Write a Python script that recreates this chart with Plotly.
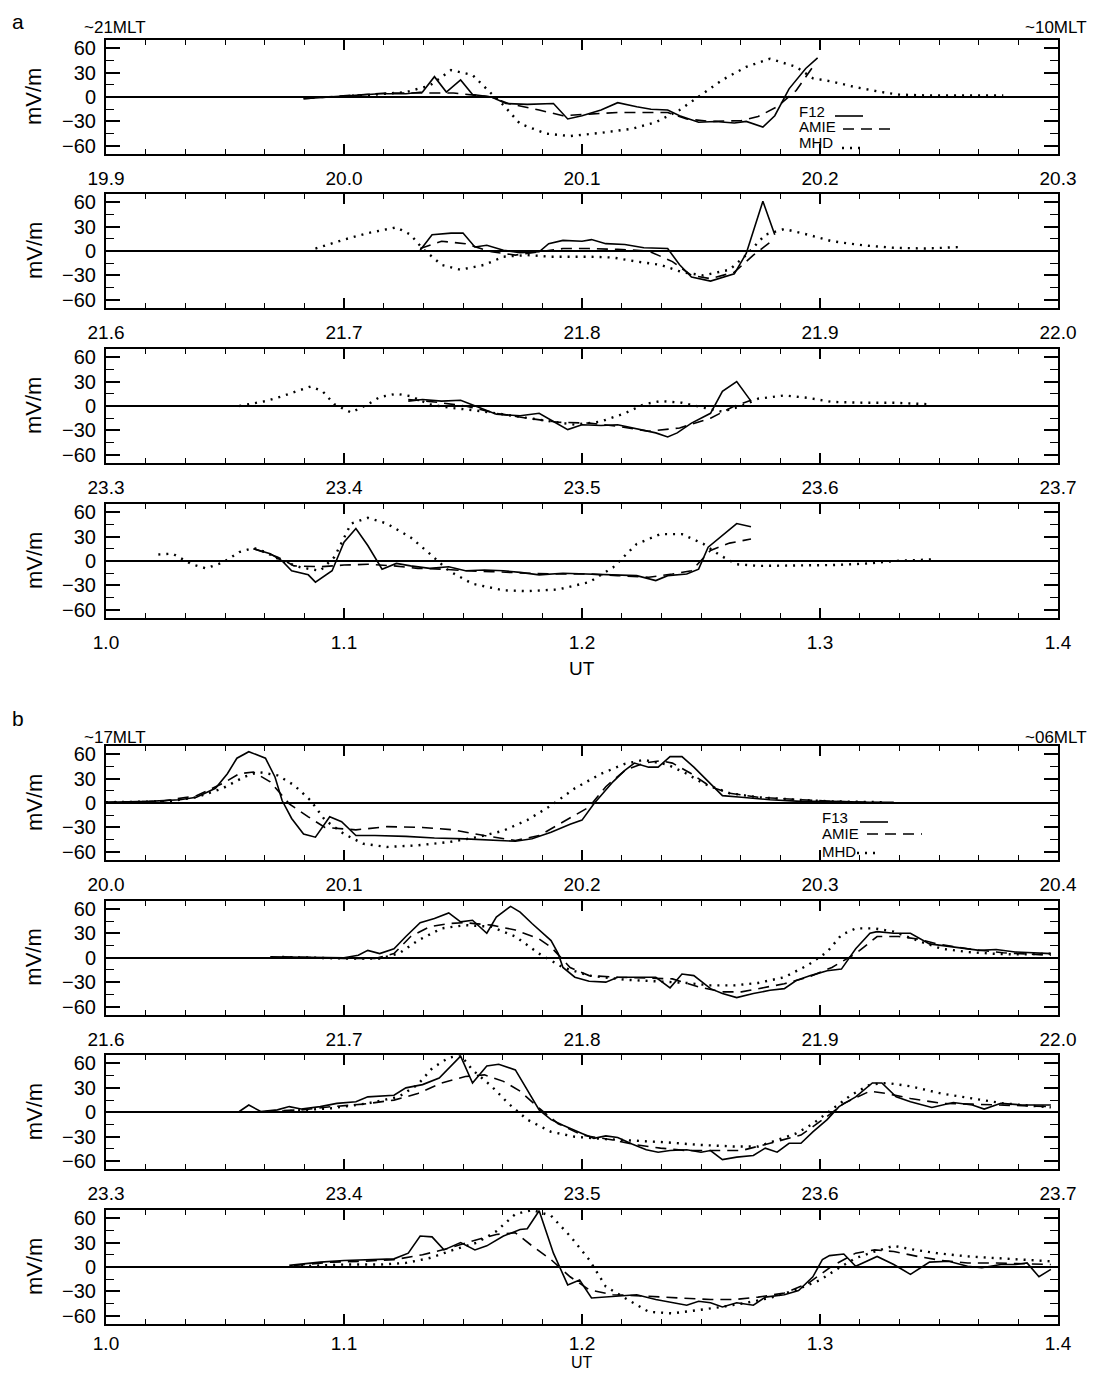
import plotly.graph_objects as go

W, H = 1099, 1380          # browser window
OFF = 8                    # default page margin of the html body
FW, FH = W - 2 * OFF, H - 2 * OFF

# ---------------- data (UT hours, mV/m) ----------------
PANEL_STARTS = [19.9, 21.6, 23.3, 1.0, 20.0, 21.6, 23.3, 1.0]
Y_TICKS = [-60, -30, 0, 30, 60]
Y_TICK_TEXT = ["\u221260", "\u221230", "0", "30", "60"]
MLT_LABELS = [("~21MLT", "~10MLT"), ("~17MLT", "~06MLT")]
SAT_NAMES = ["F12", "F13"]

# panel a1
A1_F12_T = [19.983, 20.000, 20.015, 20.026, 20.033, 20.038, 20.043, 20.049, 20.054, 20.062, 20.068, 20.077, 20.088, 20.094, 20.100, 20.108, 20.115, 20.123, 20.129, 20.136, 20.141, 20.149, 20.156, 20.164, 20.169, 20.176, 20.181, 20.187, 20.194, 20.199]
A1_F12 = [-2, 1, 4, 4, 6, 25, 6, 21, 3, 0, -8, -9, -8, -27, -23, -16, -7, -12, -15, -16, -23, -31, -30, -32, -30, -37, -23, 10, 35, 48]
A1_AMIE_T = [19.983, 20.000, 20.018, 20.031, 20.046, 20.062, 20.069, 20.082, 20.092, 20.103, 20.115, 20.128, 20.136, 20.144, 20.154, 20.167, 20.174, 20.182, 20.190, 20.197]
A1_AMIE = [-2, 1, 5, 5, 5, 0, -8, -16, -23, -21, -19, -19, -19, -27, -30, -29, -24, -12, 8, 37]
A1_MHD_T = [20.000, 20.013, 20.026, 20.036, 20.045, 20.054, 20.062, 20.067, 20.074, 20.085, 20.095, 20.108, 20.121, 20.131, 20.141, 20.151, 20.159, 20.169, 20.179, 20.190, 20.197, 20.205, 20.215, 20.226, 20.233, 20.244, 20.256, 20.277]
A1_MHD = [1, 3, 6, 14, 33, 27, 4, -10, -33, -45, -48, -44, -39, -31, -16, 4, 21, 37, 47, 37, 23, 19, 12, 6, 3, 2, 2, 2]

# panel a2
A2_F12_T = [21.732, 21.737, 21.745, 21.750, 21.755, 21.760, 21.767, 21.774, 21.782, 21.786, 21.792, 21.800, 21.804, 21.810, 21.818, 21.826, 21.836, 21.841, 21.846, 21.854, 21.864, 21.869, 21.876, 21.881]
A2_F12 = [1, 20, 22, 22, 5, 7, 1, -2, -1, 9, 13, 12, 14, 9, 8, 4, 3, -17, -32, -37, -28, -3, 61, 20]
A2_AMIE_T = [21.732, 21.741, 21.751, 21.762, 21.772, 21.782, 21.792, 21.803, 21.815, 21.828, 21.838, 21.846, 21.854, 21.864, 21.872, 21.881]
A2_AMIE = [3, 12, 9, -1, -5, -1, 3, 3, 2, 0, -13, -30, -34, -26, -5, 15]
A2_MHD_T = [21.688, 21.700, 21.710, 21.722, 21.728, 21.733, 21.741, 21.749, 21.759, 21.767, 21.777, 21.787, 21.803, 21.813, 21.823, 21.833, 21.842, 21.851, 21.862, 21.869, 21.877, 21.885, 21.895, 21.905, 21.918, 21.931, 21.944, 21.960]
A2_MHD = [3, 14, 22, 29, 20, 3, -17, -23, -17, -7, -5, -7, -7, -8, -13, -17, -26, -30, -23, -5, 20, 27, 20, 12, 7, 4, 3, 5]

# panel a3
A3_F12_T = [23.427, 23.433, 23.441, 23.449, 23.456, 23.464, 23.474, 23.482, 23.488, 23.494, 23.500, 23.508, 23.515, 23.523, 23.531, 23.536, 23.540, 23.546, 23.554, 23.559, 23.565, 23.571]
A3_F12 = [6, 8, 6, 7, -1, -10, -12, -9, -19, -29, -23, -24, -23, -28, -33, -38, -33, -21, -9, 18, 30, 6]
A3_AMIE_T = [23.427, 23.438, 23.451, 23.464, 23.477, 23.490, 23.503, 23.515, 23.528, 23.541, 23.554, 23.564, 23.571]
A3_AMIE = [8, 5, 0, -9, -15, -20, -21, -25, -31, -27, -15, 0, 7]
A3_MHD_T = [23.356, 23.367, 23.374, 23.381, 23.386, 23.391, 23.396, 23.403, 23.410, 23.415, 23.422, 23.428, 23.436, 23.444, 23.454, 23.464, 23.477, 23.487, 23.497, 23.508, 23.518, 23.526, 23.533, 23.542, 23.551, 23.559, 23.567, 23.574, 23.585, 23.595, 23.605, 23.618, 23.631, 23.647]
A3_MHD = [0, 6, 12, 19, 24, 18, 2, -8, 2, 11, 15, 12, 2, -2, -5, -9, -15, -19, -23, -19, -9, 2, 6, 4, -2, -7, 0, 9, 13, 10, 5, 4, 4, 2]

# panel a4
A4_F12_T = [1.062, 1.069, 1.074, 1.078, 1.085, 1.088, 1.095, 1.100, 1.105, 1.110, 1.116, 1.122, 1.128, 1.136, 1.144, 1.151, 1.159, 1.167, 1.174, 1.182, 1.192, 1.203, 1.213, 1.223, 1.231, 1.236, 1.244, 1.249, 1.253, 1.259, 1.265, 1.271]
A4_F12 = [15, 9, 0, -12, -17, -26, -12, 23, 40, 19, -10, -3, -6, -9, -7, -12, -11, -12, -14, -17, -15, -16, -17, -18, -24, -18, -16, -10, 17, 31, 46, 42]
A4_AMIE_T = [1.062, 1.072, 1.079, 1.090, 1.100, 1.110, 1.121, 1.131, 1.141, 1.151, 1.162, 1.177, 1.192, 1.203, 1.215, 1.228, 1.238, 1.246, 1.254, 1.262, 1.271]
A4_AMIE = [15, 5, -6, -7, -5, -4, -6, -9, -10, -12, -13, -15, -16, -16, -18, -20, -16, -12, 13, 22, 27]
A4_MHD_T = [1.022, 1.028, 1.036, 1.042, 1.049, 1.056, 1.062, 1.067, 1.074, 1.082, 1.090, 1.096, 1.103, 1.110, 1.118, 1.128, 1.136, 1.144, 1.154, 1.167, 1.177, 1.190, 1.203, 1.213, 1.223, 1.233, 1.242, 1.251, 1.258, 1.265, 1.274, 1.292, 1.305, 1.321, 1.331, 1.347]
A4_MHD = [8, 9, -4, -9, -2, 11, 16, 11, 0, -8, -12, 5, 46, 53, 46, 29, 9, -12, -28, -36, -37, -35, -26, -8, 21, 33, 33, 21, 7, -4, -6, -5, -5, -3, 0, 2]

# panel b1
B1_F13_T = [20.000, 20.018, 20.031, 20.038, 20.046, 20.051, 20.055, 20.060, 20.067, 20.071, 20.074, 20.078, 20.083, 20.088, 20.094, 20.099, 20.105, 20.113, 20.126, 20.138, 20.151, 20.164, 20.172, 20.179, 20.187, 20.195, 20.200, 20.205, 20.213, 20.218, 20.222, 20.228, 20.232, 20.237, 20.242, 20.247, 20.254, 20.259, 20.267, 20.279, 20.292, 20.305, 20.321, 20.331]
B1_F13 = [1, 2, 4, 7, 18, 36, 55, 63, 55, 32, 3, -19, -38, -42, -17, -23, -40, -40, -41, -43, -44, -46, -47, -44, -36, -26, -21, -1, 26, 40, 49, 44, 44, 57, 57, 44, 24, 9, 7, 4, 2, 2, 1, 1]
B1_AMIE_T = [20.000, 20.023, 20.038, 20.049, 20.056, 20.062, 20.069, 20.077, 20.085, 20.092, 20.105, 20.118, 20.133, 20.146, 20.159, 20.172, 20.182, 20.192, 20.203, 20.210, 20.218, 20.226, 20.233, 20.238, 20.246, 20.254, 20.262, 20.274, 20.290, 20.305, 20.318, 20.331]
B1_AMIE = [1, 2, 9, 24, 36, 38, 26, -1, -17, -30, -33, -29, -30, -33, -40, -46, -40, -23, -5, 20, 40, 49, 52, 49, 36, 20, 12, 7, 4, 2, 1, 0]
B1_MHD_T = [20.000, 20.026, 20.038, 20.049, 20.058, 20.064, 20.072, 20.079, 20.086, 20.092, 20.100, 20.108, 20.118, 20.131, 20.144, 20.156, 20.167, 20.177, 20.187, 20.197, 20.208, 20.218, 20.226, 20.236, 20.244, 20.251, 20.262, 20.274, 20.290, 20.305, 20.326]
B1_MHD = [1, 2, 7, 18, 32, 38, 34, 22, 3, -21, -38, -50, -54, -52, -48, -42, -34, -21, -3, 18, 36, 48, 53, 47, 36, 24, 12, 7, 4, 2, 1]

# panel b2
B2_F13_T = [21.669, 21.687, 21.700, 21.706, 21.710, 21.715, 21.721, 21.726, 21.732, 21.738, 21.744, 21.749, 21.754, 21.760, 21.764, 21.770, 21.774, 21.779, 21.787, 21.790, 21.792, 21.797, 21.803, 21.810, 21.815, 21.823, 21.831, 21.837, 21.842, 21.847, 21.854, 21.859, 21.865, 21.872, 21.879, 21.885, 21.890, 21.896, 21.903, 21.909, 21.915, 21.921, 21.924, 21.931, 21.938, 21.946, 21.956, 21.967, 21.974, 21.982, 21.997]
B2_F13 = [1, 0, 0, 3, 9, 5, 11, 26, 43, 48, 55, 44, 46, 30, 50, 63, 56, 42, 21, 5, -12, -24, -29, -30, -24, -24, -24, -37, -20, -22, -38, -44, -49, -44, -40, -38, -28, -22, -16, -14, 11, 30, 32, 30, 30, 17, 13, 9, 10, 7, 5]
B2_AMIE_T = [21.674, 21.700, 21.713, 21.721, 21.728, 21.736, 21.744, 21.751, 21.762, 21.772, 21.782, 21.787, 21.795, 21.803, 21.815, 21.828, 21.838, 21.849, 21.859, 21.867, 21.874, 21.885, 21.895, 21.905, 21.915, 21.924, 21.933, 21.941, 21.949, 21.962, 21.977, 21.997]
B2_AMIE = [1, -1, -1, 5, 26, 38, 42, 43, 40, 34, 23, 13, -12, -22, -24, -25, -26, -36, -42, -42, -38, -32, -24, -12, 5, 26, 26, 23, 17, 11, 6, 3]
B2_MHD_T = [21.674, 21.700, 21.715, 21.723, 21.731, 21.741, 21.751, 21.762, 21.772, 21.782, 21.792, 21.803, 21.818, 21.833, 21.844, 21.854, 21.864, 21.874, 21.885, 21.895, 21.903, 21.909, 21.915, 21.923, 21.931, 21.941, 21.951, 21.962, 21.972, 21.982, 21.997]
B2_MHD = [1, -1, -1, 5, 21, 36, 40, 38, 26, 5, -12, -22, -27, -29, -31, -34, -34, -31, -24, -9, 7, 28, 36, 36, 32, 21, 11, 7, 5, 4, 5]

# panel b3
B3_F13_T = [23.356, 23.360, 23.365, 23.372, 23.377, 23.382, 23.390, 23.397, 23.405, 23.410, 23.421, 23.426, 23.433, 23.440, 23.449, 23.454, 23.460, 23.465, 23.472, 23.477, 23.482, 23.487, 23.492, 23.500, 23.505, 23.510, 23.515, 23.521, 23.527, 23.532, 23.537, 23.544, 23.550, 23.554, 23.559, 23.565, 23.572, 23.577, 23.582, 23.587, 23.592, 23.597, 23.603, 23.608, 23.615, 23.622, 23.626, 23.632, 23.638, 23.647, 23.656, 23.664, 23.669, 23.676, 23.685, 23.697]
B3_F13 = [1, 9, 1, 3, 7, 4, 7, 11, 13, 19, 21, 30, 34, 42, 69, 36, 57, 59, 52, 28, 3, -9, -16, -26, -32, -29, -31, -39, -46, -49, -47, -46, -49, -47, -58, -55, -53, -44, -49, -38, -38, -24, -9, 7, 19, 36, 36, 19, 13, 6, 12, 9, 4, 11, 9, 9]
B3_AMIE_T = [23.367, 23.382, 23.395, 23.408, 23.421, 23.431, 23.441, 23.451, 23.459, 23.467, 23.474, 23.482, 23.490, 23.500, 23.513, 23.523, 23.533, 23.544, 23.554, 23.567, 23.579, 23.592, 23.603, 23.610, 23.621, 23.628, 23.638, 23.651, 23.664, 23.677, 23.697]
B3_AMIE = [1, 3, 7, 10, 15, 23, 36, 44, 46, 38, 26, 5, -14, -28, -34, -40, -44, -47, -47, -47, -38, -28, -5, 11, 26, 23, 17, 11, 10, 9, 7]
B3_MHD_T = [23.374, 23.395, 23.410, 23.423, 23.431, 23.437, 23.444, 23.449, 23.454, 23.462, 23.469, 23.477, 23.487, 23.497, 23.510, 23.523, 23.536, 23.549, 23.564, 23.574, 23.582, 23.590, 23.597, 23.605, 23.613, 23.621, 23.628, 23.638, 23.651, 23.664, 23.677, 23.697]
B3_MHD = [1, 5, 11, 19, 34, 54, 67, 70, 52, 32, 11, -9, -24, -30, -33, -35, -37, -40, -42, -42, -34, -26, -14, 3, 21, 34, 36, 32, 23, 17, 11, 6]

# panel b4
B4_F13_T = [1.077, 1.090, 1.100, 1.110, 1.121, 1.127, 1.132, 1.137, 1.142, 1.149, 1.155, 1.160, 1.167, 1.174, 1.177, 1.182, 1.188, 1.194, 1.199, 1.204, 1.215, 1.223, 1.231, 1.238, 1.244, 1.249, 1.254, 1.259, 1.265, 1.272, 1.277, 1.285, 1.291, 1.297, 1.301, 1.304, 1.310, 1.315, 1.324, 1.331, 1.338, 1.346, 1.354, 1.362, 1.368, 1.376, 1.382, 1.387, 1.392, 1.397]
B4_F13 = [2, 6, 8, 9, 10, 17, 38, 37, 21, 30, 21, 26, 38, 46, 47, 69, 17, -22, -16, -38, -36, -34, -40, -44, -47, -42, -44, -49, -44, -47, -37, -34, -29, -12, 9, 14, 16, 1, 13, 3, -9, 6, 7, 1, -1, 3, 3, 5, -12, -3]
B4_AMIE_T = [1.079, 1.095, 1.108, 1.121, 1.133, 1.144, 1.154, 1.164, 1.172, 1.179, 1.187, 1.195, 1.203, 1.213, 1.228, 1.241, 1.254, 1.264, 1.274, 1.285, 1.295, 1.305, 1.315, 1.323, 1.331, 1.341, 1.351, 1.362, 1.374, 1.397]
B4_AMIE = [2, 6, 7, 9, 15, 23, 32, 40, 42, 26, 9, -12, -28, -34, -36, -38, -40, -40, -37, -32, -20, 1, 17, 21, 19, 13, 8, 5, 5, 3]
B4_MHD_T = [1.082, 1.100, 1.115, 1.126, 1.136, 1.146, 1.156, 1.164, 1.172, 1.179, 1.187, 1.195, 1.203, 1.210, 1.218, 1.228, 1.238, 1.249, 1.259, 1.269, 1.279, 1.290, 1.300, 1.308, 1.315, 1.323, 1.331, 1.338, 1.349, 1.362, 1.374, 1.387, 1.397]
B4_MHD = [1, 3, 3, 5, 11, 21, 30, 44, 65, 70, 63, 38, 9, -24, -38, -55, -57, -53, -49, -44, -38, -28, -16, -1, 11, 19, 26, 22, 17, 13, 11, 9, 7]

SERIES = [
    [(A1_F12_T, A1_F12), (A1_AMIE_T, A1_AMIE), (A1_MHD_T, A1_MHD)],
    [(A2_F12_T, A2_F12), (A2_AMIE_T, A2_AMIE), (A2_MHD_T, A2_MHD)],
    [(A3_F12_T, A3_F12), (A3_AMIE_T, A3_AMIE), (A3_MHD_T, A3_MHD)],
    [(A4_F12_T, A4_F12), (A4_AMIE_T, A4_AMIE), (A4_MHD_T, A4_MHD)],
    [(B1_F13_T, B1_F13), (B1_AMIE_T, B1_AMIE), (B1_MHD_T, B1_MHD)],
    [(B2_F13_T, B2_F13), (B2_AMIE_T, B2_AMIE), (B2_MHD_T, B2_MHD)],
    [(B3_F13_T, B3_F13), (B3_AMIE_T, B3_AMIE), (B3_MHD_T, B3_MHD)],
    [(B4_F13_T, B4_F13), (B4_AMIE_T, B4_AMIE), (B4_MHD_T, B4_MHD)],
]

# ---------------- styling / layout ----------------
FONT = "Liberation Sans, Arial, sans-serif"
LINE_STYLES = [
    dict(color="black", width=1.6, dash="solid"),
    dict(color="black", width=1.6, dash="11px,7px"),
    dict(color="black", width=2.4, dash="2px,6px"),
]
PLOT_LEFT, PLOT_RIGHT = 106, 1058
TOPS = [40, 194, 349, 504, 746, 900.7, 1055.3, 1210]
PH = 114
X_STANDOFF = [6, 6, 6, 6, 6, 6, 6, 1]


def px(x):
    """window pixel -> paper fraction"""
    return (x - OFF) / FW


def py(y):
    return 1 - (y - OFF) / FH


fig = go.Figure()
layout = dict(
    width=FW, height=FH,
    margin=dict(l=0, r=0, t=0, b=0, pad=0, autoexpand=False),
    paper_bgcolor="white", plot_bgcolor="white",
    showlegend=False,
    font=dict(family=FONT, color="black"),
)
annotations = []
shapes = []

for i, (start, series) in enumerate(zip(PANEL_STARTS, SERIES)):
    n = i + 1
    xa = "x" if n == 1 else f"x{n}"
    ya = "y" if n == 1 else f"y{n}"
    xk = "xaxis" if n == 1 else f"xaxis{n}"
    yk = "yaxis" if n == 1 else f"yaxis{n}"
    top = TOPS[i]
    bot = top + PH
    tv = [start + 0.1 * k for k in range(5)]
    layout[xk] = dict(
        domain=[px(PLOT_LEFT), px(PLOT_RIGHT)], anchor=ya,
        range=[start, start + 0.4], automargin=False,
        tickmode="array", tickvals=tv, ticktext=[f"{v:.1f}" for v in tv],
        ticks="inside", ticklen=10, tickwidth=1.5, tickcolor="black",
        showline=True, linewidth=2, linecolor="black", mirror="allticks",
        showgrid=False, zeroline=False,
        minor=dict(dtick=1 / 60, tick0=start, ticklen=5, tickwidth=1.2,
                   ticks="inside", tickcolor="black", showgrid=False),
        tickfont=dict(size=19, family=FONT, color="black"),
        ticklabelstandoff=X_STANDOFF[i],
    )
    layout[yk] = dict(
        domain=[py(bot), py(top)], anchor=xa,
        range=[-70, 70], automargin=False,
        tickmode="array", tickvals=Y_TICKS, ticktext=Y_TICK_TEXT,
        ticks="inside", ticklen=14, tickwidth=1.5, tickcolor="black",
        showline=True, linewidth=2, linecolor="black", mirror="allticks",
        showgrid=False,
        zeroline=True, zerolinecolor="black", zerolinewidth=1.6,
        minor=dict(tickvals=[-45, -15, 15, 45], ticklen=8, tickwidth=1.2,
                   ticks="inside", tickcolor="black", showgrid=False),
        tickfont=dict(size=20, family=FONT, color="black"),
        ticklabelstandoff=4,
    )
    for (t, v), st in zip(series, LINE_STYLES):
        fig.add_trace(go.Scatter(x=t, y=v, mode="lines", line=st,
                                 xaxis=xa, yaxis=ya, hoverinfo="skip"))
    annotations.append(dict(
        x=px(34), y=py(top + PH / 2), xref="paper", yref="paper",
        text="mV/m", textangle=-90, showarrow=False,
        font=dict(size=22, family=FONT), xanchor="center", yanchor="middle"))

# panel letters, MLT labels, UT titles
HEAD = [("a", 8, 28, 668, 19), ("b", 705, 737, 1362, 16)]
for k, (letter, ly, mlt_y, ut_y, ut_size) in enumerate(HEAD):
    annotations.append(dict(x=px(10), y=py(ly), xref="paper", yref="paper", text=letter,
                            showarrow=False, xanchor="left", yanchor="top",
                            font=dict(size=21, family=FONT)))
    annotations.append(dict(x=px(82), y=py(mlt_y), xref="paper", yref="paper",
                            text=MLT_LABELS[k][0], showarrow=False, xanchor="left",
                            yanchor="middle", font=dict(size=17, family=FONT)))
    annotations.append(dict(x=px(1089), y=py(mlt_y), xref="paper", yref="paper",
                            text=MLT_LABELS[k][1], showarrow=False, xanchor="right",
                            yanchor="middle", font=dict(size=17, family=FONT)))
    annotations.append(dict(x=px((PLOT_LEFT + PLOT_RIGHT) / 2), y=py(ut_y), xref="paper",
                            yref="paper", text="UT", showarrow=False, xanchor="center",
                            yanchor="middle", font=dict(size=ut_size, family=FONT)))

# legends (text + sample lines)
LEG = [
    dict(x=797, ys=[111, 126, 142], lines=[(835, 863, 116), (843, 897, 129), (842, 860, 148)]),
    dict(x=820, ys=[817, 833, 851], lines=[(860, 888, 822), (867, 922, 834), (857, 876, 853)]),
]
for k, lg in enumerate(LEG):
    names = [SAT_NAMES[k], "AMIE", "MHD"]
    for name, yy, (x0, x1, yl), st in zip(names, lg["ys"], lg["lines"], LINE_STYLES):
        annotations.append(dict(x=px(lg["x"]), y=py(yy), xref="paper", yref="paper",
                                text=name, showarrow=False, xanchor="left", yanchor="middle",
                                font=dict(size=15, family=FONT)))
        shapes.append(dict(type="line", xref="paper", yref="paper",
                           x0=px(x0), x1=px(x1), y0=py(yl), y1=py(yl),
                           line=dict(color="black", width=st["width"], dash=st["dash"])))

layout["annotations"] = annotations
layout["shapes"] = shapes
fig.update_layout(**layout)
fig.write_html("out.html")
